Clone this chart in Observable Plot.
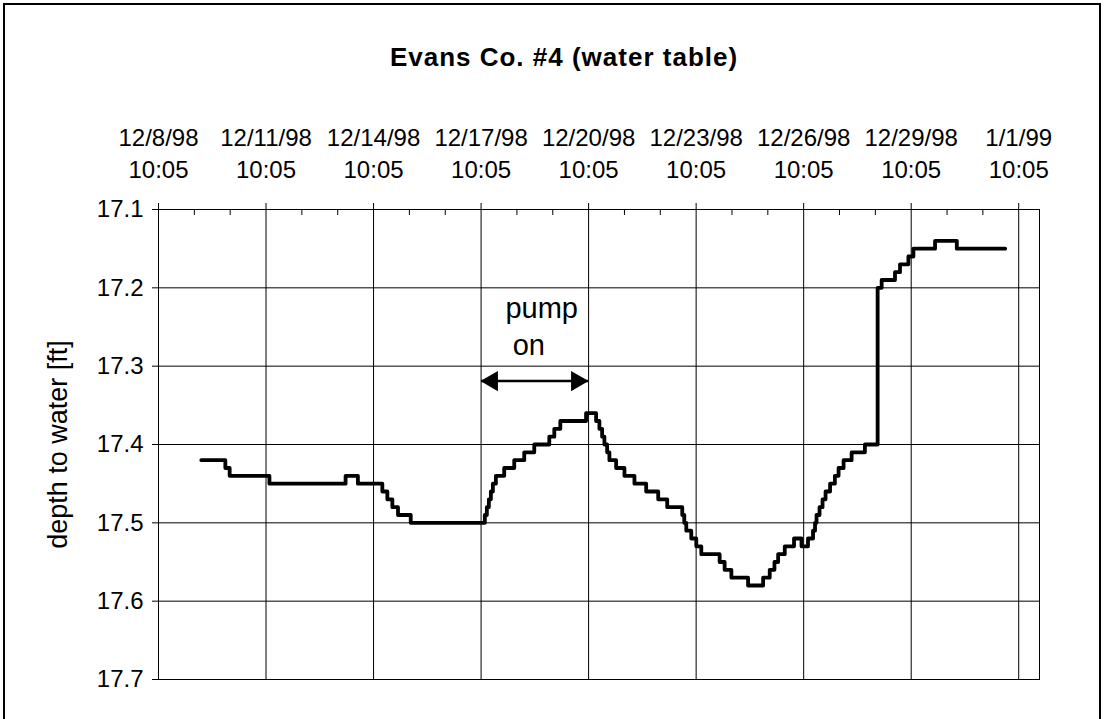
<!DOCTYPE html>
<html>
<head>
<meta charset="utf-8">
<script src="https://cdn.jsdelivr.net/npm/d3@7"></script>
<script src="https://cdn.jsdelivr.net/npm/@observablehq/plot@0.6"></script>
<style>
  body { margin: 0; background: white; }
  #wrap { position: relative; width: 1104px; height: 719px; overflow: hidden; background: white;
          font-family: "Liberation Sans", Arial, sans-serif; }
  #border { position: absolute; left: 3px; top: 3px; right: 3px; bottom: -10px; border: 2px solid black; }
  #title { position: absolute; top: 44px; left: 564px; transform: translateX(-50%); white-space: nowrap;
           font-size: 26px; line-height: 26px; font-weight: bold; letter-spacing: 1px; color: black; }
  #chart { position: absolute; left: 0; top: 90px; }
</style>
</head>
<body>
<div id="wrap">
  <div id="border"></div>
  <div id="title">Evans Co. #4 (water table)</div>
  <div id="chart"></div>
</div>
<script>
// ---- data (days after 12/8/98 10:05 at which each reading level begins) ----
const stepDays = [1.194, 1.865, 1.985, 3.095, 5.220, 5.563, 6.245, 6.385, 6.525, 6.682, 7.037,
  9.105, 9.161, 9.217, 9.273, 9.329, 9.413,
  9.645, 9.925, 10.204, 10.484, 10.903, 11.043, 11.211,
  11.929,
  12.209, 12.301, 12.377, 12.441, 12.517, 12.580,
  12.768, 13.000, 13.279, 13.606, 13.942, 14.193,
  14.613, 14.669, 14.725, 14.864, 15.004, 15.144,
  15.656, 15.795, 15.983, 16.449,
  16.869, 17.053, 17.185, 17.288, 17.473,
  17.731, 17.940, 18.121, 18.261, 18.317,
  18.359, 18.443, 18.527, 18.611, 18.737,
  18.871, 18.974, 19.114, 19.338, 19.709,
  20.064, 20.176, 20.548, 20.688, 20.922,
  21.062, 21.666, 22.273, 23.623];
const depthFt = [17.42, 17.43, 17.44, 17.45, 17.44, 17.45, 17.46, 17.47, 17.48, 17.49, 17.50,
  17.49, 17.48, 17.47, 17.46, 17.45, 17.44,
  17.43, 17.42, 17.41, 17.40, 17.39, 17.38, 17.37,
  17.36,
  17.37, 17.38, 17.39, 17.40, 17.41, 17.42,
  17.43, 17.44, 17.45, 17.46, 17.47, 17.48,
  17.49, 17.50, 17.51, 17.52, 17.53, 17.54,
  17.55, 17.56, 17.57, 17.58,
  17.57, 17.56, 17.55, 17.54, 17.53,
  17.52, 17.53, 17.52, 17.51, 17.50,
  17.49, 17.48, 17.47, 17.46, 17.45,
  17.44, 17.43, 17.42, 17.41, 17.40,
  17.20, 17.19, 17.18, 17.17, 17.16,
  17.15, 17.14, 17.15, 17.15];

const majorTickDays = [0, 3, 6, 9, 12, 15, 18, 21, 24];
const minorTickDays = [1, 2, 4, 5, 7, 8, 10, 11, 13, 14, 16, 17, 19, 20, 22, 23];
const tickLabels = ["12/8/98\n10:05", "12/11/98\n10:05", "12/14/98\n10:05", "12/17/98\n10:05",
  "12/20/98\n10:05", "12/23/98\n10:05", "12/26/98\n10:05", "12/29/98\n10:05", "1/1/99\n10:05"];
const yTicks = [17.1, 17.2, 17.3, 17.4, 17.5, 17.6, 17.7];

// annotation: pump on interval (days) and label
const pumpOn = {startDay: 9.0, endDay: 11.98, level: 17.319};
const pumpLabels = [{text: "pump", day: 10.69, level: 17.239}, {text: "on", day: 10.33, level: 17.286}];

// ---- build ----
const start = Date.UTC(1998, 11, 8, 10, 5);
const axisEnd = new Date(Date.UTC(1999, 0, 2, 0, 0));
const toDate = d => new Date(start + d * 864e5);
const series = stepDays.map((d, i) => ({date: toDate(d), depth: depthFt[i]}));
const majorDates = majorTickDays.map(toDate);
const minorDates = minorTickDays.map(toDate);

const W = 1104, H = 629, mT = 119, mB = 40, mL = 158, mR = 65;
const frameH = H - mT - mB;
const heads = [
  {date: toDate(pumpOn.startDay), level: pumpOn.level},
  {date: toDate(pumpOn.endDay), level: pumpOn.level}
];

const chart = Plot.plot({
  width: W, height: H,
  marginTop: mT, marginBottom: mB, marginLeft: mL, marginRight: mR,
  style: {fontFamily: "'Liberation Sans', Arial, sans-serif", background: "transparent", color: "black", overflow: "visible"},
  x: {type: "utc", domain: [toDate(0), axisEnd], axis: null},
  y: {domain: [17.1, 17.7], reverse: true, axis: null},
  marks: [
    Plot.gridX(majorDates, {stroke: "black", strokeOpacity: 1, strokeWidth: 1}),
    Plot.gridY(yTicks, {stroke: "black", strokeOpacity: 1, strokeWidth: 1}),
    Plot.frame({stroke: "black", strokeWidth: 1}),
    Plot.axisX(majorDates, {anchor: "top", tickSize: 7, tickFormat: () => "", label: null}),
    Plot.ruleX(minorDates, {stroke: "black", insetBottom: frameH - 6}),
    Plot.text(majorDates, {x: d => d, text: (d, i) => tickLabels[i], frameAnchor: "top",
      lineAnchor: "bottom", dy: -32, fontSize: 24, lineHeight: 1.33, fill: "black"}),
    Plot.axisY(yTicks, {anchor: "left", tickSize: 6, tickPadding: 9, fontSize: 24,
      tickFormat: d => d.toFixed(1), label: null}),
    Plot.text(["depth to water [ft]"], {frameAnchor: "left", textAnchor: "middle", rotate: -90, dx: -100,
      fontSize: 27, fill: "black"}),
    Plot.line(series, {x: "date", y: "depth", curve: "step-after", stroke: "black", strokeWidth: 3.8}),
    Plot.link([pumpOn], {x1: d => toDate(d.startDay), x2: d => toDate(d.endDay), y1: "level", y2: "level",
      stroke: "black", strokeWidth: 2.5}),
    Plot.dot(heads.slice(0, 1), {x: "date", y: "level", symbol: "triangle", rotate: -90, r: 7.5, dx: 11,
      fill: "black", stroke: "none"}),
    Plot.dot(heads.slice(1), {x: "date", y: "level", symbol: "triangle", rotate: 90, r: 7.5, dx: -11,
      fill: "black", stroke: "none"}),
    Plot.text(pumpLabels, {x: d => toDate(d.day), y: "level", text: "text", lineAnchor: "bottom",
      fontSize: 29, fill: "black"})
  ]
});
document.getElementById("chart").append(chart);
</script>
</body>
</html>
